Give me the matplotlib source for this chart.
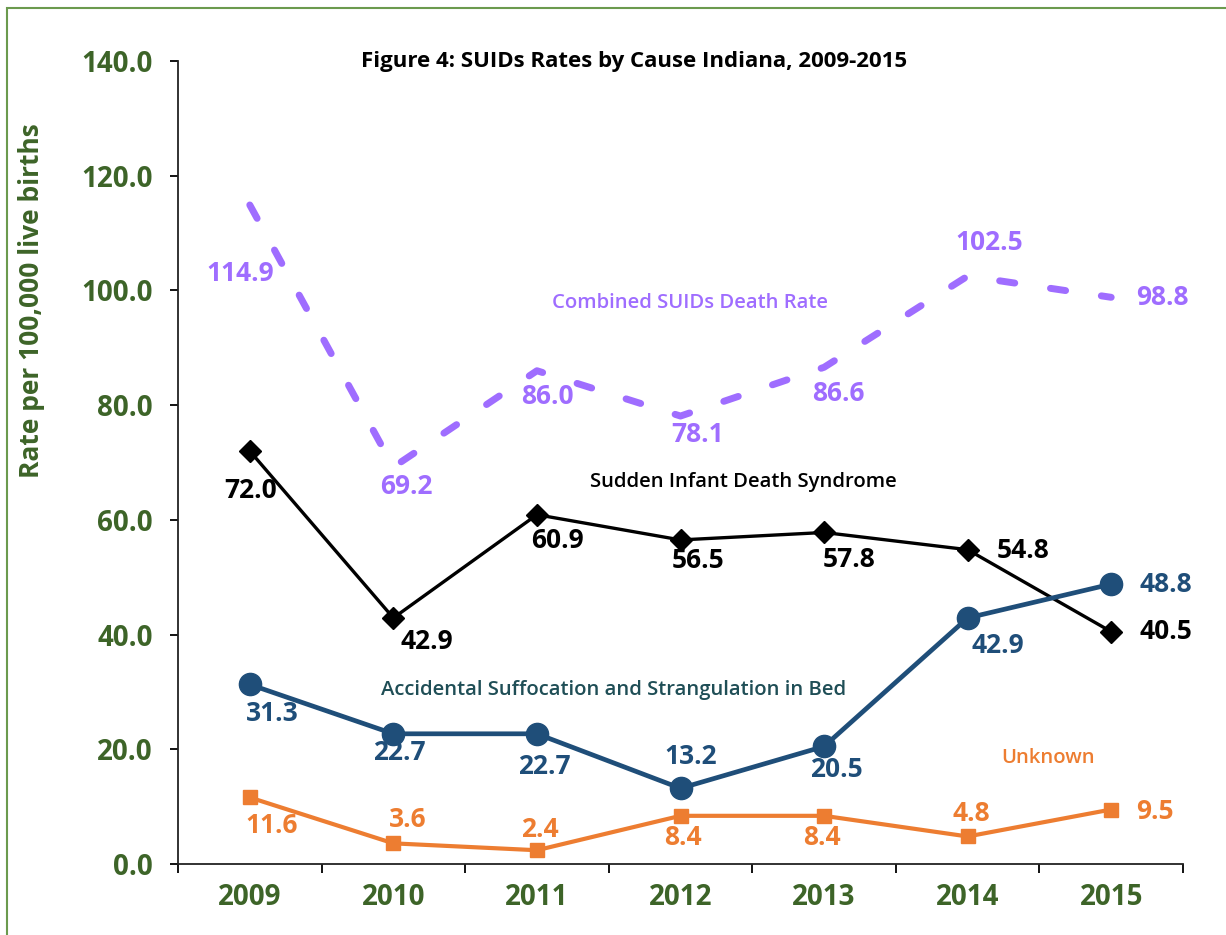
"""SUIDs rates by cause, Indiana 2009-2015."""

import matplotlib
matplotlib.use("Agg")
import matplotlib.pyplot as plt
from matplotlib.patches import Rectangle
from matplotlib.ticker import FixedLocator, FormatStrFormatter

years = ["2009", "2010", "2011", "2012", "2013", "2014", "2015"]

combined = [114.9, 69.2, 86.0, 78.1, 86.6, 102.5, 98.8]
sids = [72.0, 42.9, 60.9, 56.5, 57.8, 54.8, 40.5]
assb = [31.3, 22.7, 22.7, 13.2, 20.5, 42.9, 48.8]
unknown = [11.6, 3.6, 2.4, 8.4, 8.4, 4.8, 9.5]

# label offsets in pixels (dx, dy), hand placed like the original
combined_off = [(-10, -69), (13, -19), (11, -26), (17, -18), (14, -26), (22, 34), (51, 0)]
sids_off = [(1, -39), (33, -24), (21, -26), (18, -21), (25, -27), (55, -1), (55, 0)]
assb_off = [(23, -29), (6, -19), (7, -33), (10, 32), (12, -23), (30, -28), (55, 0)]
unknown_off = [(22, -28), (14, 24), (3, 21), (2, -22), (-2, -22), (4, 23), (44, -2)]

GREEN = "#3d6428"
PURPLE = "#9f6dff"
BLUE = "#1f4e79"
ORANGE = "#ed7d31"
TEAL = "#1f4e56"
FONT = "Open Sans"

plt.rcParams["font.family"] = [FONT, "DejaVu Sans"]

fig = plt.figure(figsize=(12.26, 9.35), dpi=100)
ax = fig.add_axes([178 / 1226, 1 - 864 / 935, (1183 - 178) / 1226, (864 - 61) / 935])

x = list(range(len(years)))

ax.plot(x, combined, color=PURPLE, lw=5, dashes=(2.2, 5.2),
        dash_capstyle="round", dash_joinstyle="round", zorder=2)
ax.plot(x, sids, color="black", lw=2.4, marker="D", ms=11,
        mfc="black", mec="black", zorder=3)
ax.plot(x, assb, color=BLUE, lw=3.4, marker="o", ms=16,
        mfc=BLUE, mec=BLUE, zorder=3)
ax.plot(x, unknown, color=ORANGE, lw=3, marker="s", ms=10,
        mfc=ORANGE, mec=ORANGE, zorder=3)


def label_points(values, offsets, color):
    for xi, (v, (dx, dy)) in enumerate(zip(values, offsets)):
        ax.annotate(f"{v:.1f}", (xi, v), xytext=(dx, dy),
                    textcoords="offset pixels", ha="center", va="center",
                    fontsize=19, fontweight="bold", color=color, zorder=4)


label_points(combined, combined_off, PURPLE)
label_points(sids, sids_off, "black")
label_points(assb, assb_off, BLUE)
label_points(unknown, unknown_off, ORANGE)

# series names placed inside the plot
name_kw = dict(transform=fig.transFigure, ha="center", va="center",
               fontsize=14.6, fontweight="semibold")
ax.text(690 / 1226, 1 - 303 / 935, "Combined SUIDs Death Rate", color=PURPLE, **name_kw)
ax.text(743 / 1226, 1 - 482 / 935, "Sudden Infant Death Syndrome", color="black", **name_kw)
ax.text(614 / 1226, 1 - 690 / 935, "Accidental Suffocation and Strangulation in Bed",
        color=TEAL, **name_kw)
ax.text(1048 / 1226, 1 - 758 / 935, "Unknown", color=ORANGE, **name_kw)

fig.text(634 / 1226, 1 - 61 / 935, "Figure 4: SUIDs Rates by Cause Indiana, 2009-2015",
         ha="center", va="center", fontsize=16, fontweight="bold")

fig.text(32 / 1226, 1 - 301 / 935, "Rate per 100,000 live births", rotation=90,
         ha="center", va="center", fontsize=19, fontweight="bold", color=GREEN)

ax.set_xlim(-0.5, len(years) - 0.5)
ax.set_ylim(0, 140)

ax.yaxis.set_major_locator(FixedLocator([0, 20, 40, 60, 80, 100, 120, 140]))
ax.yaxis.set_major_formatter(FormatStrFormatter("%.1f"))
ax.tick_params(axis="y", direction="out", length=6, width=1.3, pad=12,
               labelsize=20, labelcolor=GREEN)
for lab in ax.get_yticklabels():
    lab.set_fontweight("bold")

ax.set_xticks(x)
ax.set_xticklabels(years, fontsize=20, fontweight="bold", color=GREEN)
ax.tick_params(axis="x", which="major", length=0, pad=14)
ax.set_xticks([i - 0.5 for i in range(len(years) + 1)], minor=True)
ax.tick_params(axis="x", which="minor", direction="out", length=6.5, width=1.3)

for side in ("top", "right"):
    ax.spines[side].set_visible(False)
for side in ("left", "bottom"):
    ax.spines[side].set_linewidth(1.3)
    ax.spines[side].set_color("#222222")

# chart border (cut at right and bottom in the original)
fig.patches.append(Rectangle((7 / 1226, -0.1), 1.2, 1 - 8 / 935 + 0.1,
                             transform=fig.transFigure, fill=False,
                             edgecolor="#6b9a4e", lw=1.5))

fig.savefig("out.png", dpi=100)
